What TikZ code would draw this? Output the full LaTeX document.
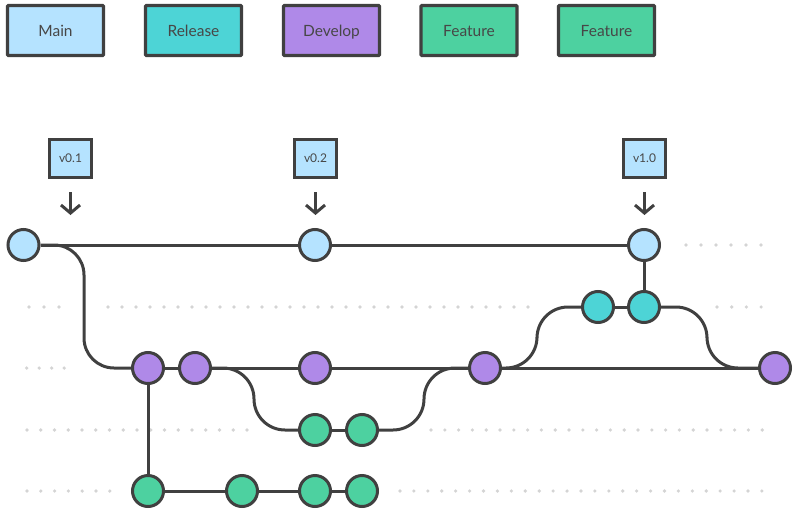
\documentclass[tikz,border=0pt]{standalone}
\usepackage{fontspec}
\setmainfont{Lato}
\usetikzlibrary{arrows.meta}
\pgfdeclarelayer{bg}
\pgfsetlayers{bg,main}
\definecolor{strokec}{HTML}{404040}
\definecolor{mainc}{HTML}{B5E3FF}
\definecolor{relc}{HTML}{4DD4D6}
\definecolor{devc}{HTML}{AF89E8}
\definecolor{featc}{HTML}{4DD1A0}
\definecolor{dotc}{HTML}{D4D4D4}
\definecolor{txtc}{HTML}{474747}
\begin{document}
\begin{tikzpicture}[x=1pt,y=-1pt,
  legendbox/.style={draw=strokec,line width=3.2pt,minimum width=96pt,minimum height=50pt,inner sep=0pt,
    font=\fontsize{15.5}{18}\selectfont,text=txtc,rounded corners=1pt,text height=11.5pt,text depth=0pt},
  tagbox/.style={draw=strokec,line width=3pt,fill=mainc,minimum width=42pt,minimum height=38pt,inner sep=0pt,
    font=\fontsize{12}{14}\selectfont,text=txtc,text height=8.8pt,text depth=0pt},
  commit/.style={circle,draw=strokec,line width=3pt,minimum size=31pt,inner sep=0pt},
  link/.style={draw=strokec,line width=3pt},
  tagarrow/.style={draw=strokec,line width=3pt,shorten <=13pt,
    -{Straight Barb[length=8pt,width=19pt,line width=3pt]}},
]
\useasboundingbox (0,0) rectangle (800,514);

% legend
\node[legendbox,fill=mainc] (L1) at (55.5,30.5) {Main};
\node[legendbox,fill=relc]  (L2) at (193.5,30.5) {Release};
\node[legendbox,fill=devc]  (L3) at (331.5,30.5) {Develop};
\node[legendbox,fill=featc] (L4) at (469,30.5) {Feature};
\node[legendbox,fill=featc] (L5) at (606.5,30.5) {Feature};

% tags
\node[tagbox] (t1) at (70.5,158.5) {v0.1};
\node[tagbox] (t2) at (315.5,158.5) {v0.2};
\node[tagbox] (t3) at (644.5,158.5) {v1.0};
\coordinate (a1) at (70.5,215);
\coordinate (a2) at (315.5,215);
\coordinate (a3) at (644.5,215);
\draw[tagarrow] (t1.south) -- (a1);
\draw[tagarrow] (t2.south) -- (a2);
\draw[tagarrow] (t3.south) -- (a3);

% commits
\node[commit,fill=mainc] (m0) at (23.5,245) {};
\node[commit,fill=mainc] (m1) at (315,245) {};
\node[commit,fill=mainc] (m2) at (644,245) {};
\node[commit,fill=relc] (r0) at (598,307) {};
\node[commit,fill=relc] (r1) at (644,307) {};
\node[commit,fill=devc] (d0) at (148,368) {};
\node[commit,fill=devc] (d1) at (195,368) {};
\node[commit,fill=devc] (d2) at (315,368) {};
\node[commit,fill=devc] (d3) at (485,368) {};
\node[commit,fill=devc] (d4) at (775,368) {};
\node[commit,fill=featc] (fa0) at (315,430) {};
\node[commit,fill=featc] (fa1) at (362,430) {};
\node[commit,fill=featc] (fb0) at (148,491) {};
\node[commit,fill=featc] (fb1) at (242,491) {};
\node[commit,fill=featc] (fb2) at (315,491) {};
\node[commit,fill=featc] (fb3) at (362,491) {};

\begin{pgfonlayer}{bg}
% dotted guide rows
\foreach \i in {0,...,5} \fill[dotc] (686+15*\i,245) circle (1.8);
\foreach \i in {0,...,2} \fill[dotc] (29+15*\i,307) circle (1.8);
\foreach \i in {0,...,30} \fill[dotc] (108+14*\i,307) circle (1.8);
\foreach \i in {0,...,3} \fill[dotc] (717+14.7*\i,307) circle (1.8);
\foreach \i in {0,...,3} \fill[dotc] (26.7+12.5*\i,368) circle (1.8);
\foreach \i in {0,...,16} \fill[dotc] (27+13.75*\i,430) circle (1.8);
\foreach \i in {0,...,24} \fill[dotc] (431+13.8*\i,430) circle (1.8);
\foreach \i in {0,...,6} \fill[dotc] (27+13.8*\i,491) circle (1.8);
\foreach \i in {0,...,26} \fill[dotc] (400+13.92*\i,491) circle (1.8);

% connectors
\draw[link] (m0) -- (m1) -- (m2);
\draw[link,rounded corners=30pt] (m0) -- (84,245) -- (84,368) -- (d0);
\draw[link] (d0) -- (d1) -- (d2) -- (d3) -- (d4);
\draw[link] (d0) -- (fb0);
\draw[link] (fb0) -- (fb1) -- (fb2) -- (fb3);
\draw[link,rounded corners=31pt] (d1) -- (254,368) -- (254,430) -- (fa0);
\draw[link] (fa0) -- (fa1);
\draw[link,rounded corners=31pt] (fa1) -- (424,430) -- (424,368) -- (d3);
\draw[link,rounded corners=31pt] (d3) -- (537,368) -- (537,307) -- (r0);
\draw[link] (r0) -- (r1);
\draw[link] (r1) -- (m2);
\draw[link,rounded corners=31pt] (r1) -- (707,307) -- (707,368) -- (d4);
\end{pgfonlayer}
\end{tikzpicture}
\end{document}
